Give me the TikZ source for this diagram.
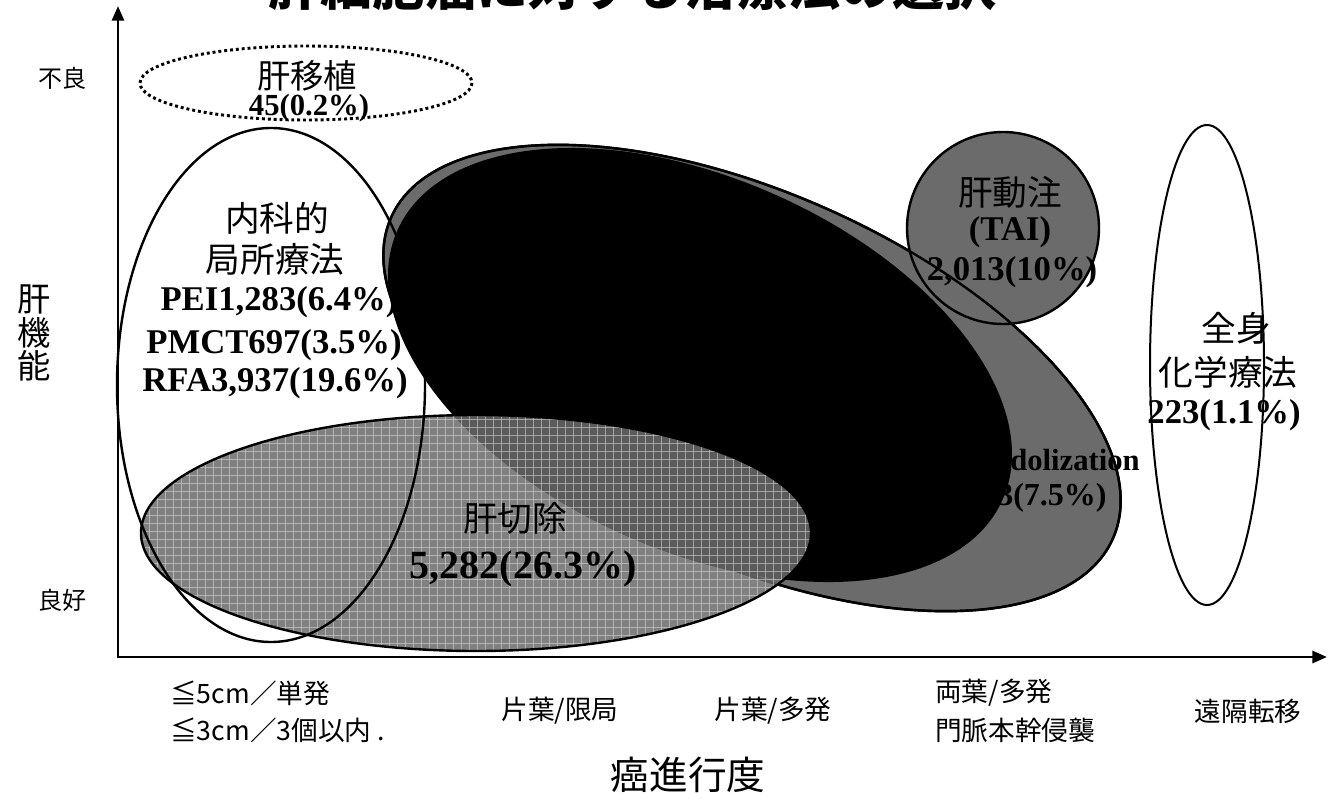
\documentclass[tikz,border=0pt]{standalone}
\usepackage{fontspec}
\setmainfont{Liberation Serif}
\newfontfamily\jp{Noto Sans CJK JP}
\usetikzlibrary{arrows.meta}

\definecolor{tone}{gray}{0.42}
\definecolor{gridline}{gray}{0.82}

\tikzset{
  axis/.style={line width=2.2pt, {Triangle[length=11pt,width=9pt]}-{Triangle[length=11pt,width=9pt]}},
  rim/.style={line width=1.8pt},
  jlab/.style={font=\jp\fontsize{26}{26}\selectfont, inner sep=0pt},
  rlab/.style={font=\bfseries\fontsize{26}{26}\selectfont, inner sep=0pt},
  ticklab/.style={font=\jp\fontsize{20}{20}\selectfont, inner sep=0pt},
}

\begin{document}
\begin{tikzpicture}[x=0.75pt, y=-0.75pt]
  \useasboundingbox (0,0) rectangle (1331,803);

  \node[font=\jp\bfseries\fontsize{39}{39}\selectfont, anchor=base, inner sep=0pt] (title) at (632,5) {肝細胞癌に対する治療法の選択};

  \coordinate (ytop) at (118,6);
  \coordinate (o) at (118,657);
  \coordinate (xend) at (1327,657);
  \draw[axis] (ytop) -- (o) -- (xend);

  \draw[rim, fill=tone, rotate around={-24:(752,378)}] (752,378) ellipse (395 and 185);
  \draw[rim, fill=tone] (1003,228) circle (96);
  \draw[rim, rotate around={-24:(752,378)}] (752,378) ellipse (395 and 185);
  \draw[rim, fill=black, rotate around={-24:(700,365)}] (700,365) ellipse (330 and 185);

  \begin{scope}
    \clip (476,533) ellipse (335 and 118);
    \fill[tone, fill opacity=0.85] (476,533) ellipse (335 and 118);
    \foreach \gx in {141,149,...,811}
      \draw[gridline, line width=0.5pt, opacity=0.6] (\gx,415) -- (\gx,651);
    \foreach \gy in {419,427,...,651}
      \draw[gridline, line width=0.5pt, opacity=0.6] (141,\gy) -- (811,\gy);
  \end{scope}
  \draw[rim] (476,533) ellipse (335 and 118);

  \draw[rim] (271,385) ellipse (154 and 257);
  \draw[line width=2.2pt, dash pattern=on 2.2pt off 2.2pt] (306,83) ellipse (166 and 37);
  \draw[line width=1.5pt] (1207,365) ellipse (57 and 240);

  \node[ticklab, font=\jp\fontsize{18}{18}\selectfont] (bad) at (62,78) {不良};
  \node[ticklab, font=\jp\fontsize{18}{18}\selectfont] (good) at (62,600) {良好};
  \node[font=\jp\fontsize{25}{25}\selectfont, align=center, inner sep=0pt] (liver) at (34,333) {肝\\機\\能};

  \node[jlab, font=\jp\fontsize{25}{25}\selectfont] (tx) at (307,76) {肝移植};
  \node[rlab, font=\bfseries\fontsize{23}{23}\selectfont] (txn) at (309,108) {45(0.2\%)};

  \node[jlab] (loc1) at (277,218) {内科的};
  \node[jlab] (loc2) at (275,259) {局所療法};
  \node[rlab] (pei) at (279,302) {PEI1,283(6.4\%)};
  \node[rlab] (pmct) at (274,345) {PMCT697(3.5\%)};
  \node[rlab] (rfa) at (275,383) {RFA3,937(19.6\%)};

  \node[jlab] (tai1) at (1010,192) {肝動注};
  \node[rlab] (tai2) at (1010,232) {(TAI)};
  \node[rlab] (tai3) at (1012,272) {2,013(10\%)};

  \node[jlab] (sys1) at (1236,328) {全身};
  \node[jlab] (sys2) at (1228,372) {化学療法};
  \node[rlab] (sys3) at (1224,415) {223(1.1\%)};

  \node[rlab, font=\bfseries\fontsize{23}{23}\selectfont, anchor=west] (lip1) at (1010,460) {dolization};
  \node[rlab, font=\bfseries\fontsize{24}{24}\selectfont, anchor=west] (lip2) at (997,498) {3(7.5\%)};

  \node[jlab] (res1) at (515,518) {肝切除};
  \node[rlab, font=\bfseries\fontsize{30}{30}\selectfont] (res2) at (523,569) {5,282(26.3\%)};

  \node[ticklab, anchor=west] (s1a) at (170,693) {≦5cm／単発};
  \node[ticklab, anchor=west] (s1b) at (170,730) {≦3cm／3個以内 .};
  \node[ticklab] (s2) at (560,711) {片葉/限局};
  \node[ticklab] (s3) at (773,711) {片葉/多発};
  \node[ticklab, anchor=west] (s4a) at (935,693) {両葉/多発};
  \node[ticklab, anchor=west] (s4b) at (935,730) {門脈本幹侵襲};
  \node[ticklab] (s5) at (1248,711) {遠隔転移};
  \node[font=\jp\fontsize{29}{29}\selectfont, inner sep=0pt] (stage) at (688,775) {癌進行度};
\end{tikzpicture}
\end{document}
